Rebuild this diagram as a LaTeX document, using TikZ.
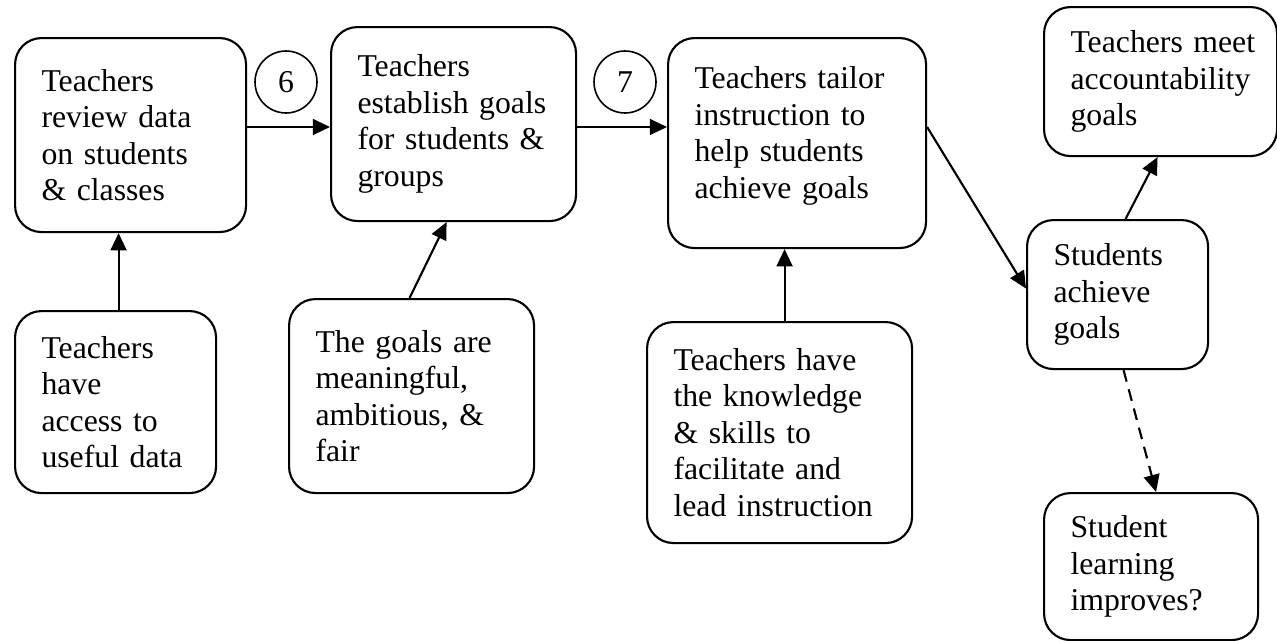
\documentclass[tikz,border=0pt]{standalone}
\usepackage{fontspec}
\setmainfont{Liberation Serif}
\usetikzlibrary{arrows.meta}
\newlength{\px}
\setlength{\px}{0.378pt}
\tikzset{
	box/.style={draw, thick, rounded corners=10pt, anchor=north west, align=left,
		inner xsep=10pt, font=\fontsize{12pt}{13.8pt}\selectfont},
	num/.style={draw, semithick, circle, minimum size=62\px, inner sep=0pt,
		font=\fontsize{12pt}{13.8pt}\selectfont},
	arr/.style={thick, -{Triangle[length=6.5pt,width=6pt]}}
}
\begin{document}
\begin{tikzpicture}[x=0.378pt, y=-0.378pt]
	\useasboundingbox (0,0) rectangle (1277,640);
	% top row
	\node[box, minimum width=231\px, minimum height=194\px, text width=231\px-20pt] (review) at (14,37)
		{Teachers\\ review data\\ on students\\ \& classes};
	\node[box, minimum width=245\px, minimum height=194\px, text width=245\px-20pt] (establish) at (330,26)
		{Teachers\\ establish goals\\ for students \&\\ groups};
	\node[box, minimum width=258\px, minimum height=210\px, text width=258\px-20pt] (tailor) at (667,37)
		{Teachers tailor\\ instruction to\\ help students\\ achieve goals\\[-10pt]\strut};
	\node[box, minimum width=233\px, minimum height=149\px, text width=233\px-20pt] (meet) at (1043,6)
		{Teachers~meet\\ accountability\\ goals};
	\node[box, minimum width=181\px, minimum height=149\px, text width=181\px-20pt] (achieve) at (1026,219)
		{Students\\ achieve\\ goals};
	% bottom row
	\node[box, minimum width=201\px, minimum height=182\px, text width=201\px-20pt] (access) at (14,310)
		{Teachers\\ have\\ access to\\ useful data};
	\node[box, minimum width=245\px, minimum height=194\px, text width=245\px-20pt] (fair) at (288,298)
		{The goals are\\ meaningful,\\ ambitious, \&\\ fair};
	\node[box, minimum width=265\px, minimum height=221\px, text width=265\px-20pt] (skills) at (646,321)
		{Teachers have\\ the knowledge\\ \& skills to\\ facilitate and\\ lead instruction};
	\node[box, minimum width=214\px, minimum height=147\px, text width=214\px-20pt] (improves) at (1043,492)
		{Student\\ learning\\ improves?};
	% numbers
	\node[num] (six) at (286,82) {6};
	\node[num] (seven) at (625,82) {7};
	\coordinate (row) at (0,127);
	% arrows
	\draw[arr] (review.east |- row) -- (establish.west |- row);
	\draw[arr] (establish.east |- row) -- (tailor.west |- row);
	\draw[arr] (tailor.east |- row) -- ([yshift=6\px]achieve.west);
	\draw[arr] ([xshift=3\px]access.north) -- ([xshift=3\px]access.north |- review.south);
	\draw[arr] ([xshift=-2\px]fair.north) -- ([xshift=-7\px]establish.south);
	\draw[arr] ([xshift=5\px]skills.north) -- ([xshift=5\px]skills.north |- tailor.south);
	\draw[arr] ([xshift=8\px]achieve.north) -- ([xshift=-3\px]meet.south);
	\draw[arr, dash pattern=on 4.5pt off 3pt] ([xshift=6\px]achieve.south) -- ([xshift=5\px]improves.north);
\end{tikzpicture}
\end{document}
